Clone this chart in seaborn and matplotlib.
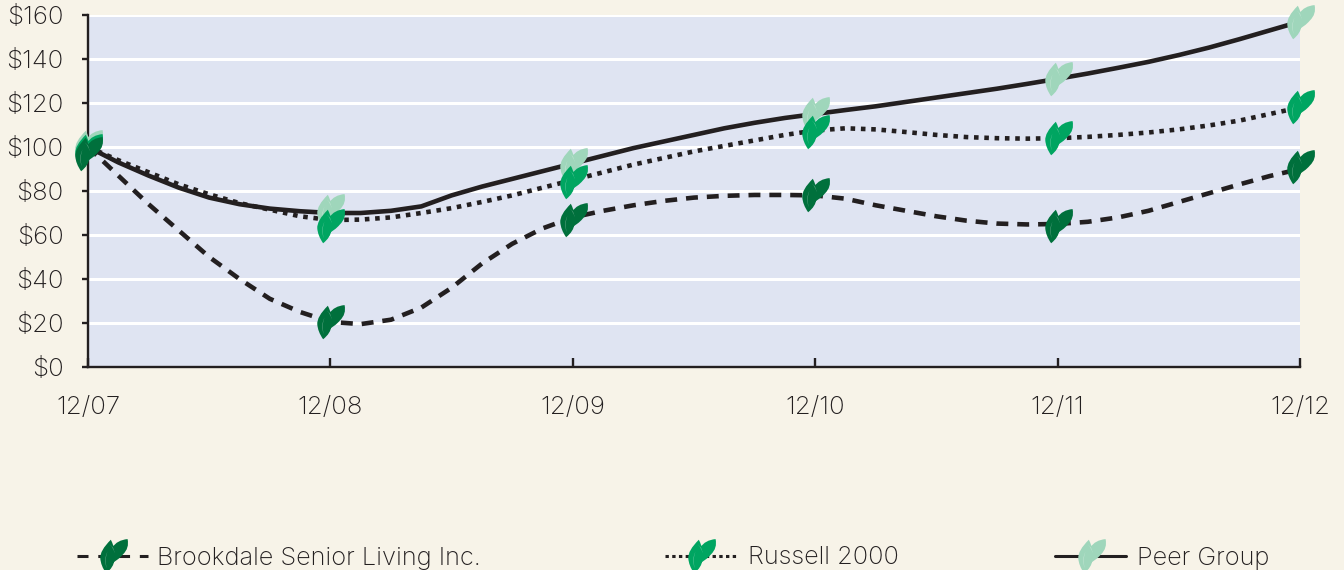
import matplotlib
matplotlib.use("Agg")
import matplotlib.pyplot as plt
from matplotlib.path import Path
from matplotlib.lines import Line2D
from matplotlib.legend_handler import HandlerTuple
import seaborn as sns
import pandas as pd

# Positions along the date axis, in years since 12/07, and values
curve_t = [0, .125, .25, .375, .5, .625, .75, .875, 1, 1.125, 1.25, 1.375, 1.5, 1.625, 1.75, 1.875,
           2, 2.125, 2.25, 2.375, 2.5, 2.625, 2.75, 2.875, 3, 3.125, 3.25, 3.375, 3.5, 3.625, 3.75, 3.875,
           4, 4.125, 4.25, 4.375, 4.5, 4.625, 4.75, 4.875, 5]
peer_v = [100, 93, 87, 81.5, 77, 74, 72, 70.8, 70, 70, 71, 73, 78, 82, 85.5, 89,
          92.5, 96, 99.5, 102.5, 105.5, 108.5, 111, 113.2, 115, 116.8, 118.5, 120.5, 122.5, 124.5, 126.5, 128.7,
          131, 133.4, 136, 138.7, 141.8, 145.2, 149, 153, 157]
russell_v = [100, 94, 88.5, 83, 78.5, 74.5, 71.5, 68.5, 66.8, 67, 68, 70, 72.2, 75, 78, 81.5,
             85, 88.5, 92, 95, 98, 100.5, 103, 105.5, 107.5, 108.5, 108, 106.8, 105.5, 104.5, 104, 103.8,
             104, 104.6, 105.5, 106.6, 108, 109.8, 112, 115, 118]
brook_v = [100, 87, 74, 62, 50, 40, 31, 25, 20.5, 19.5, 21.5, 27, 36, 47, 56, 63,
           68, 71, 73.5, 75.5, 77, 77.8, 78.2, 78.2, 78, 76.5, 73.5, 71, 68.5, 66.5, 65.2, 64.8,
           65, 66, 68, 71, 75, 79, 83, 86.8, 90]

year_pos = [0, 1, 2, 3, 4, 5]
peer_marks = [100, 71, 92, 115, 131, 157]
russell_marks = [98, 64, 84, 107, 104, 118]
brook_marks = [97, 20.5, 67, 78, 64, 91]
year_labels = ["12/07", "12/08", "12/09", "12/10", "12/11", "12/12"]
y_ticks = [0, 20, 40, 60, 80, 100, 120, 140, 160]

BG, PANEL, INK = "#F7F3E8", "#DFE4F2", "#231F20"
DARK, MID, LIGHT = "#00703C", "#00A561", "#9FD6BB"
FONT = "Inter"
DOTS = (0, (1.0, 1.25))
DASHES = (0, (2.6, 1.95))

C3 = Path.CURVE3
M = Path.MOVETO
dx = 0.06
left_leaf = [(-.22, 1.0), (-.88, .35), (-.85, -.1), (-.82, -.55), (-.5, -1.0), (-.05, -.65), (.0, -.2), (.12, .35), (-.22, 1.0)]
right_leaf = [(-.3, -.45), (.2, -.25), (.5, .12), (.9, .5), (.78, 1.04), (.15, .98), (-.12, .55), (-.4, .2), (-.3, -.45)]
LEAF = Path([(x + dx, y) for x, y in left_leaf + right_leaf], [M] + [C3] * 8 + [M] + [C3] * 8)
vein_verts = [(1.05, 1.05), (1.05, 1.05), (-.46, -.72), (-.68, -.2), (-.42, .3), (-.62, -.2), (-.46, -.72),
              (-.28, .72), (-.02, .55), (.0, .2), (-.06, .55), (-.28, .72)]
vein_codes = [M, Path.LINETO, M, C3, C3, C3, C3, M, C3, C3, C3, C3]
VEIN = Path([(x + dx if i > 1 else x, y) for i, (x, y) in enumerate(vein_verts)], vein_codes)
SIZE = 630

sns.set_theme(style="white")
plt.rcParams["font.family"] = [FONT, "DejaVu Sans"]
plt.rcParams["font.weight"] = "light"

fig = plt.figure(figsize=(13.44, 5.70), dpi=100, facecolor=BG)
ax = fig.add_axes([88 / 1344, 1 - 367 / 570, (1300 - 88) / 1344, 352 / 570], facecolor=PANEL)

series = [
    (peer_v, peer_marks, "-", LIGHT),
    (russell_v, russell_marks, DOTS, MID),
    (brook_v, brook_marks, DASHES, DARK),
]
for v, marks, ls, col in series:
    df = pd.DataFrame({"t": curve_t, "v": v})
    sns.lineplot(data=df, x="t", y="v", ax=ax, color=INK, lw=3.3, linestyle=ls, errorbar=None, zorder=3, estimator=None)
for v, marks, ls, col in series:
    mk = pd.DataFrame({"t": year_pos, "v": marks})
    sns.scatterplot(data=mk, x="t", y="v", ax=ax, marker=LEAF, s=SIZE, color=col, linewidth=0, zorder=4, clip_on=False)
    sns.scatterplot(data=mk, x="t", y="v", ax=ax, marker=VEIN, s=SIZE, color="white", alpha=0.4, linewidth=0, zorder=4, clip_on=False)

ax.set_xlim(0, 5)
ax.set_ylim(0, 160)
ax.set_xlabel("")
ax.set_ylabel("")
ax.set_yticks(y_ticks)
ax.set_yticklabels([f"${v}" for v in y_ticks])
ax.set_xticks(year_pos)
ax.set_xticklabels(year_labels)
ax.grid(axis="y", color="white", lw=2.2, zorder=1)
ax.set_axisbelow(True)
for s in ("top", "right"):
    ax.spines[s].set_visible(False)
for s in ("left", "bottom"):
    ax.spines[s].set_color(INK)
    ax.spines[s].set_linewidth(1.7)
ax.tick_params(axis="y", direction="out", length=4.5, width=1.7, color=INK, labelcolor=INK, labelsize=18.6, pad=13, left=True)
ax.tick_params(axis="x", direction="in", length=6.5, width=1.7, color=INK, labelcolor=INK, labelsize=18.6, pad=21, bottom=True)
if ax.get_legend():
    ax.get_legend().remove()

legend_spec = [
    ("Brookdale Senior Living Inc.", (0, (3.6, 3.2)), DARK, 77, 0.33),
    ("Russell 2000", (0, (1.1, 1.1)), MID, 665, 0.47),
    ("Peer Group", "-", LIGHT, 1055, 0.43),
]
for name, ls, col, px, gap in legend_spec:
    h = Line2D([], [], color=INK, lw=2.2, linestyle=ls, marker=LEAF, markersize=SIZE ** 0.5,
               markerfacecolor=col, markeredgewidth=0)
    vein = Line2D([], [], linestyle="none", marker=VEIN, markersize=SIZE ** 0.5,
                  markerfacecolor="white", alpha=0.4, markeredgewidth=0)
    fig.legend(handles=[(h, vein)], labels=[name], loc="center left", bbox_to_anchor=(px / 1344, 1 - 558 / 570),
               frameon=False, fontsize=18.3, handlelength=2.8, handletextpad=gap, borderpad=0, borderaxespad=0,
               labelcolor=INK, handler_map={tuple: HandlerTuple(ndivide=1, pad=0)})

fig.savefig("out.png", dpi=100, facecolor=BG)
